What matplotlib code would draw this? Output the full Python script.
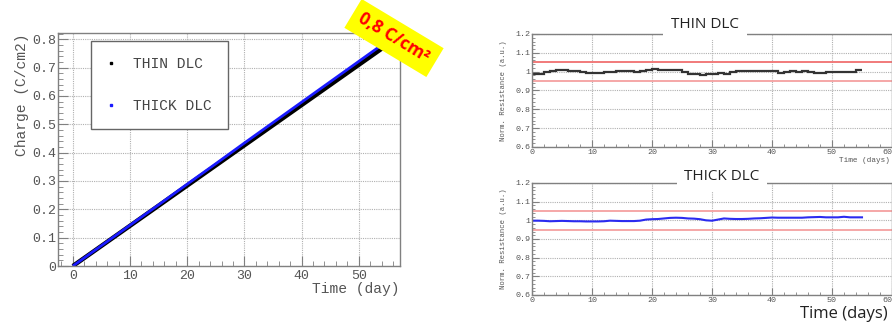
import numpy as np
import matplotlib.pyplot as plt
from matplotlib.lines import Line2D
from matplotlib.ticker import MultipleLocator

# accumulated charge (C/cm2) vs time (days)
charge_days = [0, 5, 10, 15, 20, 25, 30, 35, 40, 45, 50, 55]
charge_thin = [0, 0.071, 0.142, 0.213, 0.284, 0.355, 0.426, 0.497, 0.568, 0.639, 0.710, 0.781]
charge_thick = [0, 0.072, 0.144, 0.216, 0.289, 0.361, 0.434, 0.506, 0.578, 0.650, 0.722, 0.794]

# normalised resistance, one value per day
res_thin = [0.985, 0.990, 0.997, 1.005, 1.009, 1.008, 1.005, 1.003, 0.996, 0.993,
            0.993, 0.995, 0.998, 0.998, 1.006, 1.006, 1.002, 1.000, 1.006, 1.008,
            1.013, 1.011, 1.009, 1.009, 1.008, 0.996, 0.988, 0.988, 0.981, 0.986,
            0.990, 0.993, 0.990, 0.998, 1.005, 1.005, 1.002, 1.002, 1.002, 1.002,
            1.001, 0.992, 0.997, 1.004, 0.999, 1.005, 1.000, 0.995, 0.995, 0.996,
            0.997, 0.997, 0.997, 0.996, 1.007]
res_thick = [0.998, 0.998, 0.997, 0.995, 0.996, 0.997, 0.996, 0.995, 0.995, 0.994,
             0.994, 0.994, 0.995, 0.998, 0.997, 0.996, 0.996, 0.996, 0.998, 1.004,
             1.006, 1.007, 1.010, 1.013, 1.014, 1.013, 1.010, 1.009, 1.006, 1.000,
             0.998, 1.004, 1.010, 1.008, 1.007, 1.007, 1.008, 1.010, 1.011, 1.013,
             1.015, 1.014, 1.014, 1.014, 1.014, 1.014, 1.016, 1.017, 1.018, 1.016,
             1.016, 1.016, 1.019, 1.016, 1.016, 1.016]

limits = [0.95, 1.05]
res_xticks = [0, 10, 20, 30, 40, 50, 60]
res_yticks = [0.6, 0.7, 0.8, 0.9, 1.0, 1.1, 1.2]
res_ylabels = ['0.6', '0.7', '0.8', '0.9', '1', '1.1', '1.2']

mono = 'Liberation Mono'
frame_col = '#808080'
text_col = '#555555'

fig = plt.figure(figsize=(8.92, 3.27), dpi=100)


def style_axes(ax, size):
    for s in ax.spines.values():
        s.set_color(frame_col)
        s.set_linewidth(1)
    ax.tick_params(which='both', direction='in', top=False, right=False,
                   colors=frame_col, labelcolor=text_col, labelsize=size)
    ax.tick_params(which='major', length=7)
    ax.tick_params(which='minor', length=3.5)
    for lab in ax.get_xticklabels() + ax.get_yticklabels():
        lab.set_family(mono)
    ax.grid(which='major', color='#b0b0b0', linestyle=(0, (1, 1)), linewidth=0.8)
    ax.set_axisbelow(True)


# charge vs time
ax = fig.add_axes([0.065, 0.1865, 0.3834, 0.7125])
ax.plot(charge_days, charge_thin, color='black', lw=3.2, solid_capstyle='butt')
ax.plot(charge_days, charge_thick, color='#1a1aff', lw=2.0, solid_capstyle='butt')
ax.set_xlim(-2.6, 57.2)
ax.set_ylim(0, 0.822)
ax.xaxis.set_major_locator(MultipleLocator(10))
ax.xaxis.set_minor_locator(MultipleLocator(2))
ax.yaxis.set_minor_locator(MultipleLocator(0.02))
ax.set_yticks(np.arange(0, 0.81, 0.1))
ax.set_yticklabels(['0', '0.1', '0.2', '0.3', '0.4', '0.5', '0.6', '0.7', '0.8'])
style_axes(ax, 9.5)
ax.tick_params(axis='y', pad=1)
ax.tick_params(axis='x', pad=3)
fig.text(22 / 892, 1 - 33 / 327, 'Charge (C/cm2)', rotation=90, ha='center', va='top',
         family=mono, fontsize=10.5, color=text_col)
fig.text(400 / 892, 1 - 289 / 327, 'Time (day)', ha='right', va='center',
         family=mono, fontsize=10.5, color=text_col)

handles = [Line2D([], [], ls='none', marker='s', ms=1.8, color='black'),
           Line2D([], [], ls='none', marker='s', ms=1.8, color='#1a1aff')]
leg = ax.legend(handles, ['THIN DLC', 'THICK DLC'], loc='upper left',
                bbox_to_anchor=(91 / 892, 1 - 41 / 327), bbox_transform=fig.transFigure,
                borderaxespad=0, prop={'family': mono, 'size': 10.5},
                labelspacing=1.9, handlelength=0.6, handletextpad=1.2,
                borderpad=1.1, fancybox=False, framealpha=1)
leg.get_frame().set_edgecolor('#666666')
leg.get_frame().set_linewidth(1)
for t in leg.get_texts():
    t.set_color('#444444')

fig.text(394 / 892, 1 - 38 / 327, '0,8 C/cm\u00b2', rotation=-31, rotation_mode='anchor',
         ha='center', va='center', family='Open Sans', weight='bold', fontsize=12.5,
         color='#ff0000', bbox=dict(boxstyle='square,pad=0.45', fc='#ffff00', ec='none'))

# normalised resistance panels
days = np.arange(len(res_thick))
panels = [
    ([0.5964, 0.5505, 0.4036, 0.3456], 'THIN DLC', (705, 25)),
    ([0.5964, 0.0979, 0.4036, 0.3425], 'THICK DLC', (722, 177)),
]
for i, (rect, title, (tx, ty)) in enumerate(panels):
    a = fig.add_axes(rect)
    for lim in limits:
        a.axhline(lim, color='#f07070' if (i == 0 and lim > 1) else '#f5a0a0', lw=1.3)
    if i == 0:
        a.stairs(res_thin, np.arange(len(res_thin) + 1), baseline=None,
                 color='#333333', lw=1.6)
    else:
        a.plot(days, res_thick, color='#2b2bf0', lw=1.5)
    a.set_xlim(0, 60)
    a.set_ylim(0.6, 1.2)
    a.set_xticks(res_xticks, [str(t) for t in res_xticks])
    a.xaxis.set_minor_locator(MultipleLocator(2))
    a.set_yticks(res_yticks, res_ylabels)
    a.yaxis.set_minor_locator(MultipleLocator(0.02))
    style_axes(a, 6)
    a.get_xticklabels()[-1].set_ha('right')
    a.tick_params(which='major', length=5)
    a.tick_params(which='minor', length=2.5)
    a.tick_params(axis='y', pad=1)
    a.tick_params(axis='x', pad=1.5)
    a.set_ylabel('Norm. Resistance (a.u.)', family=mono, fontsize=5.2, color=text_col,
                 labelpad=6)
    fig.text(tx / 892, 1 - ty / 327, title, ha='center', va='center',
             family='Open Sans', fontsize=11, color='#222222',
             bbox=dict(boxstyle='square,pad=0.5', fc='white', ec='none'))

fig.text(890 / 892, 1 - 160 / 327, 'Time (days)', ha='right', va='center',
         family=mono, fontsize=5.5, color=text_col)
fig.text(888 / 892, 1 - 314 / 327, 'Time (days)', ha='right', va='center',
         family='Open Sans', fontsize=12, color='#222222')

fig.savefig('out.png', dpi=100)
